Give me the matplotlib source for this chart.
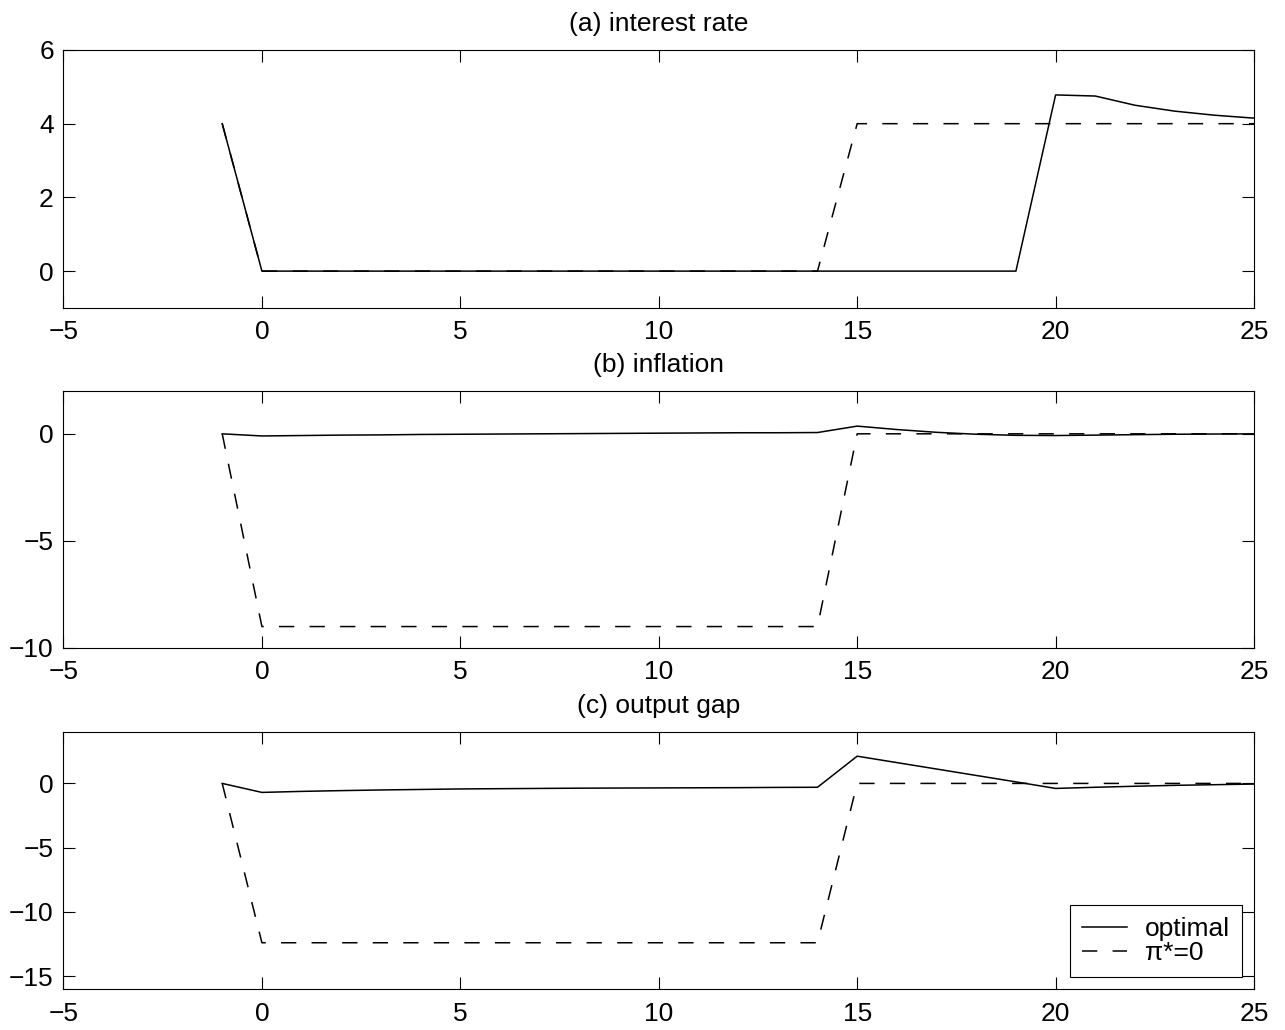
import matplotlib
matplotlib.use("Agg")
import matplotlib.pyplot as plt

plt.rcParams['font.family'] = ['Liberation Sans', 'DejaVu Sans']
FS = 19

# periods -1 .. 25
periods = [-1, 0, 1, 2, 3, 4, 5, 6, 7, 8, 9, 10, 11, 12, 13, 14,
           15, 16, 17, 18, 19, 20, 21, 22, 23, 24, 25]

rate_optimal = [4.0, 0, 0, 0, 0, 0, 0, 0, 0, 0, 0, 0, 0, 0, 0, 0,
                0, 0, 0, 0, 0, 4.78, 4.75, 4.5, 4.34, 4.23, 4.15]
rate_zero = [4.0, 0, 0, 0, 0, 0, 0, 0, 0, 0, 0, 0, 0, 0, 0, 0,
             4, 4, 4, 4, 4, 4, 4, 4, 4, 4, 4]

infl_optimal = [0.0, -0.1, -0.08, -0.06, -0.05, -0.03, -0.02, -0.01, 0.0,
                0.01, 0.02, 0.03, 0.04, 0.05, 0.05, 0.06,
                0.36, 0.2, 0.07, -0.02, -0.07, -0.08, -0.06, -0.04, -0.02, -0.01, 0.0]
infl_zero = [0, -9, -9, -9, -9, -9, -9, -9, -9, -9, -9, -9, -9, -9, -9, -9,
             0, 0, 0, 0, 0, 0, 0, 0, 0, 0, 0]

gap_optimal = [0.0, -0.7, -0.62, -0.56, -0.51, -0.47, -0.43, -0.41, -0.39,
               -0.37, -0.36, -0.35, -0.34, -0.33, -0.31, -0.3,
               2.12, 1.62, 1.12, 0.62, 0.12, -0.39, -0.3, -0.22, -0.15, -0.1, -0.05]
gap_zero = [0, -12.4, -12.4, -12.4, -12.4, -12.4, -12.4, -12.4, -12.4, -12.4,
            -12.4, -12.4, -12.4, -12.4, -12.4, -12.4,
            0, 0, 0, 0, 0, 0, 0, 0, 0, 0, 0]

titles = ["(a) interest rate", "(b) inflation", "(c) output gap"]
ylims = [(-1, 6), (-10, 2), (-16, 4)]
yticks = [[0, 2, 4, 6], [-10, -5, 0], [-15, -10, -5, 0]]
xticks = [-5, 0, 5, 10, 15, 20, 25]

fig = plt.figure(figsize=(12.85, 10.3), dpi=100)
boxes = [[0.0494, 0.701, 0.9265, 0.2505],
         [0.0494, 0.3709, 0.9265, 0.2495],
         [0.0494, 0.0398, 0.9265, 0.2495]]
series = [(rate_optimal, rate_zero), (infl_optimal, infl_zero), (gap_optimal, gap_zero)]


def minus(v):
    return ('\u2212' + str(-v)) if v < 0 else str(v)


for i in range(3):
    ax = fig.add_axes(boxes[i])
    opt, zero = series[i]
    ax.plot(periods, opt, color='black', linewidth=1.1, label='optimal')
    ax.plot(periods, zero, color='black', linewidth=1.1, linestyle=(0, (10, 10)),
            label='π*=0')
    ax.set_xlim(-5, 25)
    ax.set_ylim(*ylims[i])
    ax.set_xticks(xticks)
    ax.set_yticks(yticks[i])
    ax.set_xticklabels([minus(v) for v in xticks])
    ax.set_yticklabels([minus(v) for v in yticks[i]])
    ax.tick_params(direction='in', length=8.5, width=0.8, top=True, right=True,
                   labelsize=FS)
    ax.tick_params(axis='x', pad=9)
    ax.tick_params(axis='y', pad=7)
    for sp in ax.spines.values():
        sp.set_linewidth(0.8)
    ax.set_title(titles[i], fontsize=FS, pad=14)
    if i == 2:
        leg = ax.legend(loc='lower right', fancybox=False, framealpha=1,
                        edgecolor='black', handlelength=1.7, borderaxespad=0.45,
                        labelspacing=0.0, handletextpad=0.7, borderpad=0.45,
                        fontsize=FS)
        leg.get_frame().set_linewidth(0.8)

fig.savefig('out.png', dpi=100)
